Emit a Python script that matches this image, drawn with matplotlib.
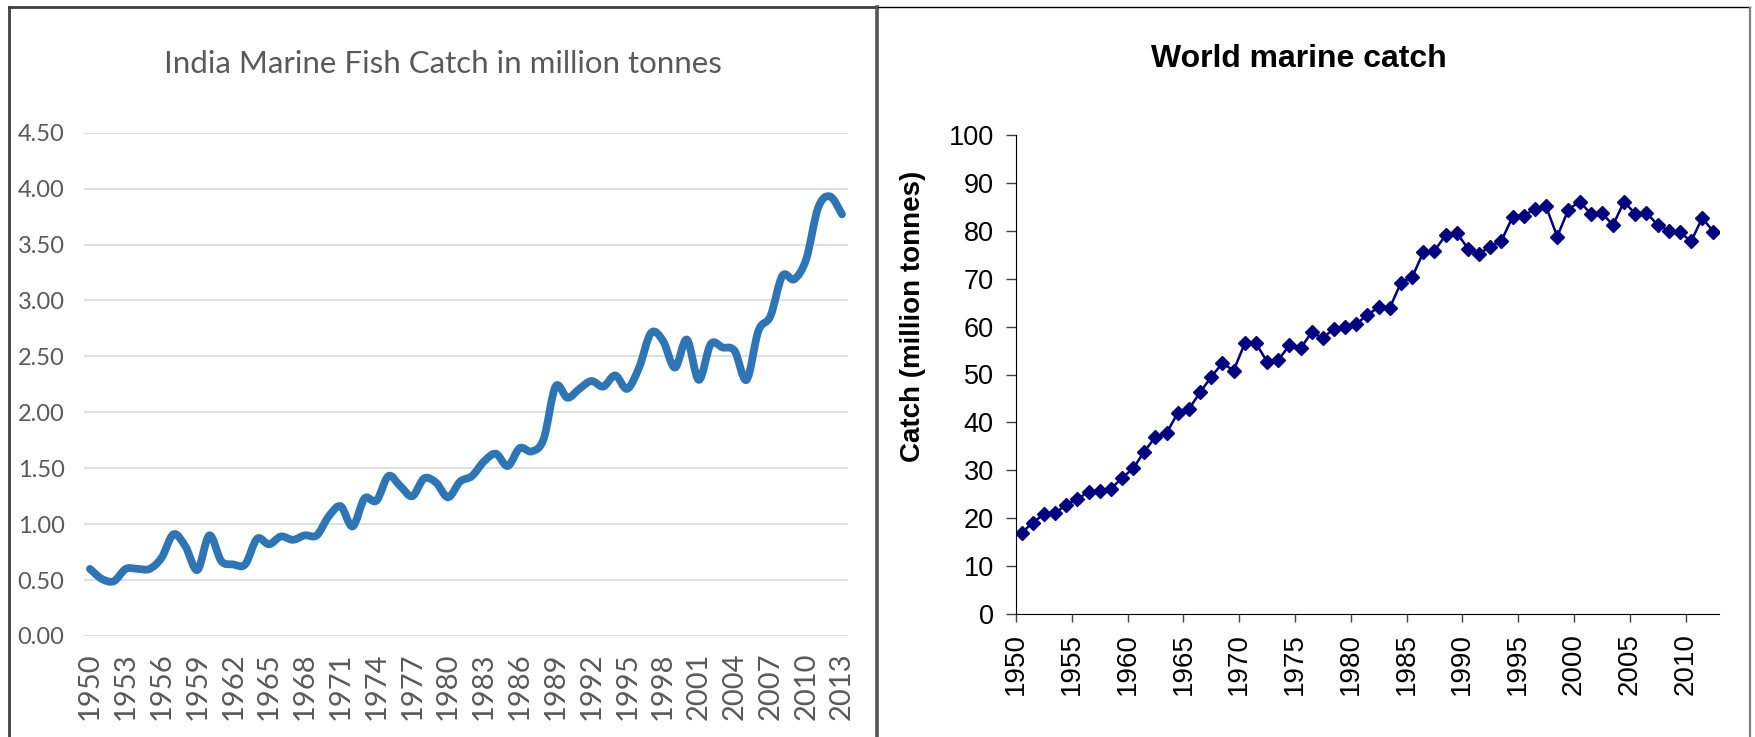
import numpy as np
import matplotlib
matplotlib.use('Agg')
import matplotlib.pyplot as plt
from matplotlib.path import Path
from matplotlib.patches import PathPatch
from matplotlib.lines import Line2D

# datos: captura marina de la India (millones de toneladas), 1950-2013
india_years = list(range(1950, 2014))
india_catch = [0.60, 0.51, 0.49, 0.60, 0.60, 0.60, 0.70, 0.91, 0.80, 0.59,
               0.90, 0.67, 0.64, 0.64, 0.87, 0.82, 0.89, 0.86, 0.90, 0.90,
               1.07, 1.16, 0.98, 1.23, 1.21, 1.43, 1.34, 1.25, 1.41, 1.37,
               1.24, 1.38, 1.43, 1.56, 1.63, 1.52, 1.68, 1.65, 1.76, 2.23,
               2.13, 2.21, 2.28, 2.23, 2.33, 2.21, 2.40, 2.71, 2.64, 2.40,
               2.65, 2.29, 2.61, 2.58, 2.55, 2.29, 2.73, 2.86, 3.22, 3.19,
               3.37, 3.83, 3.93, 3.77]
india_ticks = ['0.00', '0.50', '1.00', '1.50', '2.00', '2.50', '3.00',
               '3.50', '4.00', '4.50']

# datos: captura marina mundial (millones de toneladas), 1950-2012
world_years = list(range(1950, 2013))
world_catch = [16.9, 19.1, 20.8, 21.1, 22.8, 24.0, 25.5, 25.6, 26.1, 28.4,
               30.4, 33.9, 37.0, 37.8, 42.0, 42.8, 46.3, 49.5, 52.4, 50.8,
               56.5, 56.5, 52.7, 53.0, 56.1, 55.5, 58.8, 57.6, 59.6, 60.0,
               60.5, 62.5, 64.0, 63.9, 69.2, 70.3, 75.5, 75.8, 79.1, 79.6,
               76.3, 75.2, 76.7, 77.9, 82.9, 83.1, 84.6, 85.1, 78.8, 84.4,
               86.1, 83.6, 83.7, 81.2, 86.1, 83.5, 83.8, 81.2, 80.0, 79.7,
               77.8, 82.7, 79.8]
world_ticks = [0, 10, 20, 30, 40, 50, 60, 70, 80, 90, 100]

W, H = 1756, 737
calibri = ['Lato', 'DejaVu Sans']
arial = ['Liberation Sans', 'DejaVu Sans']
gris = '#595959'


def curva_suave(xs, ys):
    """Path Bezier (estilo 'linea suavizada' de Excel) que pasa por los puntos."""
    pts = np.column_stack([xs, ys]).astype(float)
    n = len(pts)
    verts = [pts[0]]
    codes = [Path.MOVETO]
    for i in range(n - 1):
        p0 = pts[max(i - 1, 0)]
        p1 = pts[i]
        p2 = pts[i + 1]
        p3 = pts[min(i + 2, n - 1)]
        verts += [p1 + (p2 - p0) / 6, p2 - (p3 - p1) / 6, p2]
        codes += [Path.CURVE4] * 3
    return Path(verts, codes)


def fx(px):
    return px / W


def fy(py):
    return 1 - py / H


fig = plt.figure(figsize=(W / 100, H / 100), dpi=100)

# ---------- panel izquierdo: India ----------
ax1 = fig.add_axes([fx(84), fy(636), fx(848) - fx(84), fy(132.7) - fy(636)])
x1 = np.arange(len(india_years))
ax1.add_patch(PathPatch(curva_suave(x1, india_catch), fill=False,
                        edgecolor='#2E75B6', lw=5.6, capstyle='round',
                        joinstyle='round', zorder=3))
ax1.set_xlim(-0.5, len(india_years) - 0.5)
ax1.set_ylim(0, 4.5)
ax1.set_yticks([float(t) for t in india_ticks])
ax1.set_yticklabels(india_ticks, family=calibri, fontsize=17, color=gris)
ax1.set_xticks(x1[::3])
ax1.set_xticklabels([str(y) for y in india_years[::3]], rotation=90,
                    family=calibri, fontsize=21, color=gris)
ax1.tick_params(axis='both', length=0)
ax1.tick_params(axis='y', pad=14)
ax1.tick_params(axis='x', pad=12)
ax1.grid(axis='y', color='#D9D9D9', lw=1.2)
ax1.set_axisbelow(True)
for s in ax1.spines.values():
    s.set_visible(False)
fig.text(fx(443), fy(64), 'India Marine Fish Catch in million tonnes',
         ha='center', va='center', family=calibri, fontsize=22.5, color=gris)

# ---------- panel derecho: mundo ----------
ax2 = fig.add_axes([fx(1016), fy(614), fx(1719) - fx(1016), fy(135) - fy(614)])
x2 = np.arange(len(world_years)) + 0.5
ax2.plot(x2, world_catch, color='#000080', lw=1.8, marker='D',
         markersize=7.5, markerfacecolor='#000080', markeredgecolor='#000080')
ax2.set_xlim(0, len(world_years))
ax2.set_ylim(0, 100)
ax2.set_yticks(world_ticks)
ax2.set_yticklabels([str(t) for t in world_ticks], family=arial, fontsize=19.5)
ax2.set_xticks(np.arange(0, len(world_years), 5))
ax2.set_xticklabels([str(y) for y in world_years[::5]], rotation=90,
                    family=arial, fontsize=20)
ax2.tick_params(axis='y', length=7, width=1, pad=9, color='#404040')
ax2.tick_params(axis='x', length=6, width=1, pad=8, color='#404040')
for s in ['top', 'right']:
    ax2.spines[s].set_visible(False)
ax2.set_ylabel('Catch (million tonnes)', family=arial, fontsize=20,
               fontweight='bold')
ax2.yaxis.set_label_coords((926 - 1016) / 703, (614 - 316) / 479)
fig.text(fx(1299), fy(59), 'World marine catch', ha='center', va='center',
         family=arial, fontsize=23, fontweight='bold')

# ---------- marcos de los paneles ----------
marcos = [
    ([9, 9], [7, 737], '#404040', 2.0),
    ([9, 877], [7, 7], '#404040', 2.0),
    ([877, 877], [7, 737], '#555555', 2.6),
    ([878, 1750], [7, 7], 'black', 1.0),
    ([1750, 1750], [8, 737], '#808080', 1.6),
]
for xs, ys, c, w in marcos:
    fig.add_artist(Line2D([fx(v) for v in xs], [fy(v) for v in ys],
                          color=c, lw=w, transform=fig.transFigure))

fig.savefig('out.png', dpi=100)
